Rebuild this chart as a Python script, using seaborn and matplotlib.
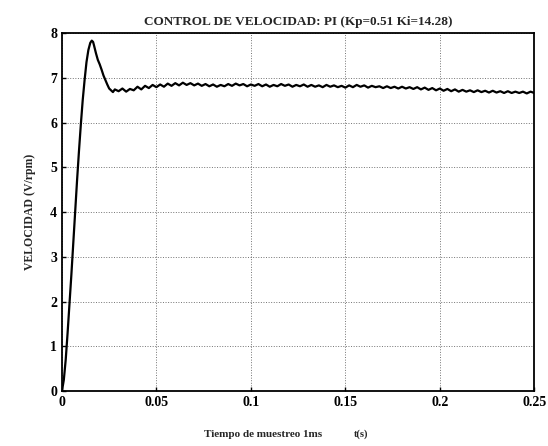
import numpy as np
import pandas as pd
import matplotlib
matplotlib.use('Agg')
import matplotlib.pyplot as plt
import seaborn as sns

# rise and overshoot
t_rise = [0.0, 0.001, 0.002, 0.003, 0.004, 0.005, 0.006, 0.007, 0.008, 0.009,
          0.010, 0.011, 0.012, 0.013, 0.014, 0.015, 0.0158, 0.0165, 0.017, 0.018,
          0.019, 0.020, 0.021, 0.022, 0.023, 0.024, 0.025, 0.026, 0.027, 0.028]
v_rise = [0.0, 0.25, 0.7, 1.3, 1.95, 2.6, 3.3, 4.0, 4.7, 5.35,
          5.95, 6.5, 6.95, 7.35, 7.62, 7.78, 7.83, 7.8, 7.72, 7.55,
          7.4, 7.3, 7.18, 7.05, 6.95, 6.85, 6.76, 6.72, 6.68, 6.74]

# steady state with ripple, one value every 2 ms from 0.030 s
v_steady = [6.70, 6.76, 6.69, 6.75, 6.72, 6.80, 6.74, 6.82, 6.77, 6.84,
            6.79, 6.85, 6.80, 6.87, 6.82, 6.88, 6.83, 6.89, 6.84, 6.88,
            6.83, 6.87, 6.82, 6.86, 6.81, 6.85, 6.80, 6.84, 6.81, 6.86,
            6.82, 6.87, 6.83, 6.86, 6.81, 6.85, 6.82, 6.86, 6.81, 6.85,
            6.80, 6.84, 6.81, 6.86, 6.82, 6.85, 6.80, 6.84, 6.81, 6.85,
            6.80, 6.84, 6.80, 6.83, 6.79, 6.84, 6.80, 6.83, 6.79, 6.82,
            6.78, 6.83, 6.79, 6.84, 6.80, 6.83, 6.78, 6.82, 6.79, 6.81,
            6.77, 6.81, 6.77, 6.80, 6.76, 6.80, 6.76, 6.79, 6.75, 6.79,
            6.74, 6.78, 6.73, 6.77, 6.72, 6.76, 6.71, 6.75, 6.70, 6.74,
            6.69, 6.73, 6.69, 6.72, 6.68, 6.72, 6.68, 6.71, 6.67, 6.71,
            6.67, 6.70, 6.66, 6.70, 6.66, 6.69, 6.66, 6.69, 6.65, 6.69,
            6.66]
t_steady = [round(0.030 + 0.002 * i, 3) for i in range(len(v_steady))]

x_ticks = [0, 0.05, 0.1, 0.15, 0.2, 0.25]
x_tick_labels = ['0', '0.05', '0.1', '0.15', '0.2', '0.25']
y_ticks = [0, 1, 2, 3, 4, 5, 6, 7, 8]

df = pd.DataFrame({'t': t_rise + t_steady, 'v': v_rise + v_steady})

sns.set_style('ticks')
plt.rcParams['font.family'] = ['Liberation Serif', 'DejaVu Serif']
plt.rcParams['font.weight'] = 'bold'

fig = plt.figure(figsize=(5.48, 4.46), dpi=100)
ax = fig.add_axes([0.113, 0.123, 0.862, 0.803])

sns.lineplot(data=df, x='t', y='v', ax=ax, color='black', linewidth=1.6)

ax.set_xlim(0, 0.25)
ax.set_ylim(0, 8)
ax.set_xticks(x_ticks)
ax.set_xticklabels(x_tick_labels)
ax.set_yticks(y_ticks)
ax.tick_params(direction='in', length=3, labelsize=10, colors='black', width=1)
ax.grid(True, linestyle=':', color='black', linewidth=0.7, alpha=0.55)
for s in ax.spines.values():
    s.set_visible(True)
    s.set_linewidth(1.3)
    s.set_color('black')

ax.set_title('CONTROL DE VELOCIDAD: PI (Kp=0.51 Ki=14.28)', fontsize=9.5,
             fontweight='bold', pad=6)
ax.set_xlabel('')
ax.set_ylabel('VELOCIDAD (V/rpm)', fontsize=8.5, fontweight='bold', labelpad=10)
fig.text(0.372, 0.02, 'Tiempo de muestreo 1ms', fontsize=8, fontweight='bold')
fig.text(0.645, 0.02, 't(s)', fontsize=7.5, fontweight='bold')

fig.savefig('out.png', dpi=100)
